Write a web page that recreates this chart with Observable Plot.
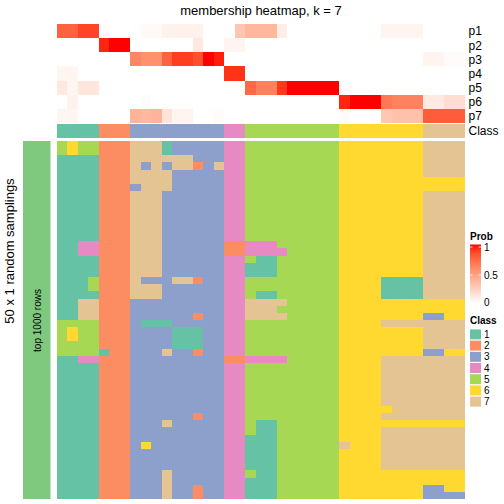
<!DOCTYPE html>
<html><head><meta charset="utf-8">
<script src="https://cdn.jsdelivr.net/npm/d3@7"></script>
<script src="https://cdn.jsdelivr.net/npm/@observablehq/plot@0.6"></script>
<style>
body{margin:0;background:#fff;}
#chart{position:relative;width:504px;height:504px;font-family:"Liberation Sans",Arial,Helvetica,sans-serif;color:#000;overflow:hidden;background:#fff}
#chart svg{position:absolute;}
.lbl{position:absolute;white-space:nowrap;text-align:center}
</style></head><body><div id="chart"></div>
<script>
const title = "membership heatmap, k = 7";
const sideLabel = "50 x 1 random samplings";
const annoLabel = "top 1000 rows";
const classes = ["1","2","3","4","5","6","7"];
const classColors = ["#66C2A5","#FC8D62","#8DA0CB","#E78AC3","#A6D854","#FFD92F","#E5C494"];
const classAnnotation = [1,1,1,1,2,2,2,3,3,3,3,3,3,3,3,3,4,4,5,5,5,5,5,5,5,5,5,6,6,6,6,6,6,6,6,7,7,7,7];
const probRows = ["p1","p2","p3","p4","p5","p6","p7"];
const p1 = [0.78,0.78,0.88,0.88,0.02,0,0,0,0.03,0.03,0.07,0.07,0.07,0.07,0,0,0,0.3,0.38,0.38,0.38,0.09,0,0,0,0,0,0,0,0,0,0.06,0.06,0.06,0.06,0,0,0,0];
const p2 = [0,0,0,0,0.96,1,1,0,0,0,0,0,0,0.12,0,0,0.06,0.06,0,0,0,0,0,0,0,0,0,0,0,0,0,0,0,0,0,0,0,0,0];
const p3 = [0,0,0,0,0,0,0,0.62,0.57,0.57,0.78,0.9,0.9,0.85,1,0.97,0,0,0,0,0,0,0,0,0,0,0,0,0,0,0,0,0,0,0,0.06,0.06,0.02,0.02];
const p4 = [0.05,0.05,0,0,0,0,0,0,0,0,0,0,0,0,0,0,0.93,0.93,0,0,0,0,0,0,0,0,0,0,0,0,0,0,0,0,0,0,0,0,0];
const p5 = [0.12,0.05,0.13,0.13,0,0,0,0,0,0,0,0,0,0,0,0,0,0,0.75,0.65,0.65,0.92,1,1,1,1,1,0,0,0,0,0,0,0,0,0,0,0,0];
const p6 = [0,0.07,0,0,0,0,0,0,0.02,0,0,0,0,0,0,0,0,0,0,0,0,0,0,0,0,0,0,0.96,1,1,1,0.68,0.64,0.64,0.64,0.11,0.11,0.18,0.18];
const p7 = [0.05,0.05,0,0,0,0,0,0.4,0.37,0.4,0.15,0.06,0.06,0,0,0.02,0,0,0,0,0,0,0,0,0,0,0,0.02,0,0,0,0.3,0.33,0.33,0.33,0.8,0.8,0.8,0.8];
const probTicks = [0, 0.5, 1];
const samplings = [
"5655 222 777133333 44 555555555 66666666 7777",
"5655 222 777133333 44 555555555 66666666 7777",
"1111 222 777777333 44 555555555 66666666 7777",
"1111 222 737377237 44 555555555 66666666 7777",
"1111 222 777733333 44 555555555 66666666 7777",
"1111 222 777733333 44 555555555 66666666 6666",
"1111 222 377733333 44 555555555 66666666 6666",
"1111 222 777333333 44 555555555 66666666 7777",
"1111 222 777333333 44 555555555 66666666 7777",
"1111 222 777333333 44 555555555 66666666 7777",
"1111 222 777333333 44 555555555 66666666 7777",
"1111 222 777333333 44 555555555 66666666 7777",
"1111 222 777333333 44 555555555 66666666 7777",
"1111 222 777333333 44 555555555 66666666 7777",
"1144 222 777333333 22 444555555 66666666 7777",
"1144 222 777333333 22 444455555 66666666 7777",
"1111 222 777333333 44 511555555 66666666 7777",
"1111 222 777333333 44 111555555 66666666 7777",
"1111 222 777333333 44 111555555 66666666 7777",
"1115 222 733377233 44 555555555 66661111 7777",
"1115 222 777333333 44 555555555 66661111 7777",
"1111 222 777333333 44 511555555 66661111 7777",
"1177 222 333333333 44 777755555 66666666 6666",
"1177 222 333333333 44 777555555 66666666 6666",
"1177 222 333333233 44 777755555 66666666 3366",
"5555 222 311133333 44 555555555 66667777 7777",
"5655 222 333311133 44 555555555 66666666 7777",
"5655 222 333311133 44 555555555 66666666 7777",
"5555 222 333311133 44 555555555 66666666 7777",
"5555 122 333733233 44 555555555 66666666 3366",
"1144 222 333333333 22 444455555 66667777 7777",
"1111 222 333333333 44 555555555 66667777 7777",
"1111 222 333333333 44 555555555 66667777 7777",
"1111 222 333333333 44 555555555 66667777 7777",
"1111 222 333333333 44 555555555 66667777 7777",
"1111 222 333333333 44 555555555 66667777 7777",
"1111 222 333333333 44 555555555 66667777 7777",
"1111 222 333333333 44 555555555 66666777 7777",
"1111 222 333333233 44 555555555 66667777 7777",
"1111 222 333733333 44 511555555 66666666 6666",
"1111 222 333333333 44 511555555 66667777 7777",
"1111 222 333333333 44 111555555 66667777 7777",
"1111 222 363333333 44 111555555 76667777 7777",
"1111 222 333333333 44 111555555 66667777 7777",
"1111 222 333333333 44 111555555 66667777 7777",
"1111 222 333333333 44 111555555 66667777 7777",
"1111 222 333733333 44 511555555 66666666 6666",
"1111 222 333733333 44 111555555 66666666 6666",
"1111 222 333733233 44 111555555 66666666 3366",
"1111 222 333733233 44 111555555 66666666 3333"
];

const FONT = '"Liberation Sans",Arial,Helvetica,sans-serif';
const chart = document.getElementById("chart");
const cols = classAnnotation.map((_, i) => i);
const probValues = [p1, p2, p3, p4, p5, p6, p7];
const probData = probRows.flatMap((r, j) => probValues[j].map((v, i) => ({row: r, col: i, v})));
const place = (el, left, top) => { el.style.left = left + "px"; el.style.top = top + "px"; chart.appendChild(el); };
const baseStyle = {background: "transparent", fontFamily: FONT, overflow: "visible", color: "black"};

// title
const t = document.createElement("div");
t.className = "lbl"; t.textContent = title;
t.style.cssText += "left:57px;top:3px;width:408px;font-size:13px;line-height:16px;";
chart.appendChild(t);

// Probability heatmap
const plotA = Plot.plot({
  width: 504, height: 123, marginLeft: 57, marginRight: 39, marginTop: 24, marginBottom: 0,
  x: {domain: cols, axis: null, padding: 0, round: false},
  y: {domain: probRows, padding: 0, round: false, axis: "right", label: null, tickSize: 0, tickPadding: 3},
  color: {type: "linear", domain: [0, 1], range: ["white", "red"], interpolate: "lab"},
  style: {...baseStyle, fontSize: "12px"},
  marks: [Plot.cell(probData, {x: "col", y: "row", fill: "v", shapeRendering: "crispEdges"})]
});
place(plotA, 0, 0);

// Class annotation
const plotB = Plot.plot({
  width: 504, height: 14, marginLeft: 57, marginRight: 39, marginTop: 0, marginBottom: 0,
  x: {domain: cols, axis: null, padding: 0, round: false},
  y: {domain: ["Class"], padding: 0, round: false, axis: "right", label: null, tickSize: 0, tickPadding: 3},
  color: {domain: classes, range: classColors},
  style: {...baseStyle, fontSize: "12px"},
  marks: [Plot.cell(cols, {x: d => d, y: () => "Class", fill: i => String(classAnnotation[i]), shapeRendering: "crispEdges"})]
});
place(plotB, 0, 124.3);

// sampling matrix
const matrix = samplings.flatMap((s, r) => s.replace(/ /g, "").split("").map((c, i) => ({row: r, col: i, cls: c})));
const plotC = Plot.plot({
  width: 504, height: 358, marginLeft: 57, marginRight: 39, marginTop: 0, marginBottom: 0,
  x: {domain: cols, axis: null, padding: 0, round: false},
  y: {domain: samplings.map((_, i) => i), axis: null, padding: 0, round: false},
  color: {domain: classes, range: classColors},
  style: baseStyle,
  marks: [Plot.cell(matrix, {x: "col", y: "row", fill: "cls", shapeRendering: "crispEdges"})]
});
place(plotC, 0, 141);

// left annotation
const plotD = Plot.plot({
  width: 57, height: 358, marginLeft: 23, marginRight: 6.5, marginTop: 0, marginBottom: 0,
  x: {domain: [annoLabel], axis: null, padding: 0, round: false},
  y: {domain: [annoLabel], axis: null, padding: 0, round: false},
  style: {...baseStyle, fontSize: "10px"},
  marks: [
    Plot.cell([annoLabel], {x: d => d, y: d => d, fill: "#7FC97F"}),
    Plot.text([annoLabel], {x: d => d, y: d => d, text: d => d, rotate: -90, fill: "black", fontSize: 10, dx: 1})
  ]
});
place(plotD, 0, 141);

// side label
const s = document.createElement("div");
s.className = "lbl"; s.textContent = sideLabel;
s.style.cssText += "left:-90px;top:243px;width:200px;height:16px;font-size:13px;line-height:16px;transform:rotate(-90deg);";
chart.appendChild(s);

// legends
const svg = d3.create("svg").attr("width", 504).attr("height", 504).style("font-family", FONT)
  .style("left", "0px").style("top", "0px");
const interp = d3.interpolateLab("white", "red");
const defs = svg.append("defs");
const grad = defs.append("linearGradient").attr("id", "probgrad").attr("x1", 0).attr("x2", 0).attr("y1", 1).attr("y2", 0);
d3.range(0, 1.0001, 0.1).forEach(o => grad.append("stop").attr("offset", o).attr("stop-color", interp(o)));
const ly = d3.scaleLinear([0, 1], [303, 247]);
svg.append("text").attr("x", 470).attr("y", 239.5).attr("font-size", 10).attr("font-weight", "bold").text("Prob");
svg.append("rect").attr("x", 470).attr("y", 244.5).attr("width", 11).attr("height", 59).attr("fill", "url(#probgrad)");
probTicks.forEach(v => {
  svg.append("line").attr("x1", 470).attr("x2", 472.5).attr("y1", ly(v)).attr("y2", ly(v)).attr("stroke", "white").attr("stroke-width", 0.8);
  svg.append("line").attr("x1", 478.5).attr("x2", 481).attr("y1", ly(v)).attr("y2", ly(v)).attr("stroke", "white").attr("stroke-width", 0.8);
  svg.append("text").attr("x", 484).attr("y", v === 0 ? ly(v) - 1 : ly(v)).attr("dy", "0.36em").attr("font-size", 10).text(String(v));
});
svg.append("text").attr("x", 470).attr("y", 323.5).attr("font-size", 10).attr("font-weight", "bold").text("Class");
const cy = d3.scaleBand(classes, [328.8, 407.2]);
classes.forEach((c, i) => {
  svg.append("rect").attr("x", 470).attr("y", cy(c) + 0.6).attr("width", 11).attr("height", cy.bandwidth() - 1.2).attr("fill", classColors[i]);
  svg.append("text").attr("x", 484).attr("y", cy(c) + cy.bandwidth() / 2).attr("dy", "0.36em").attr("font-size", 10).text(c);
});
chart.appendChild(svg.node());
</script></body></html>
